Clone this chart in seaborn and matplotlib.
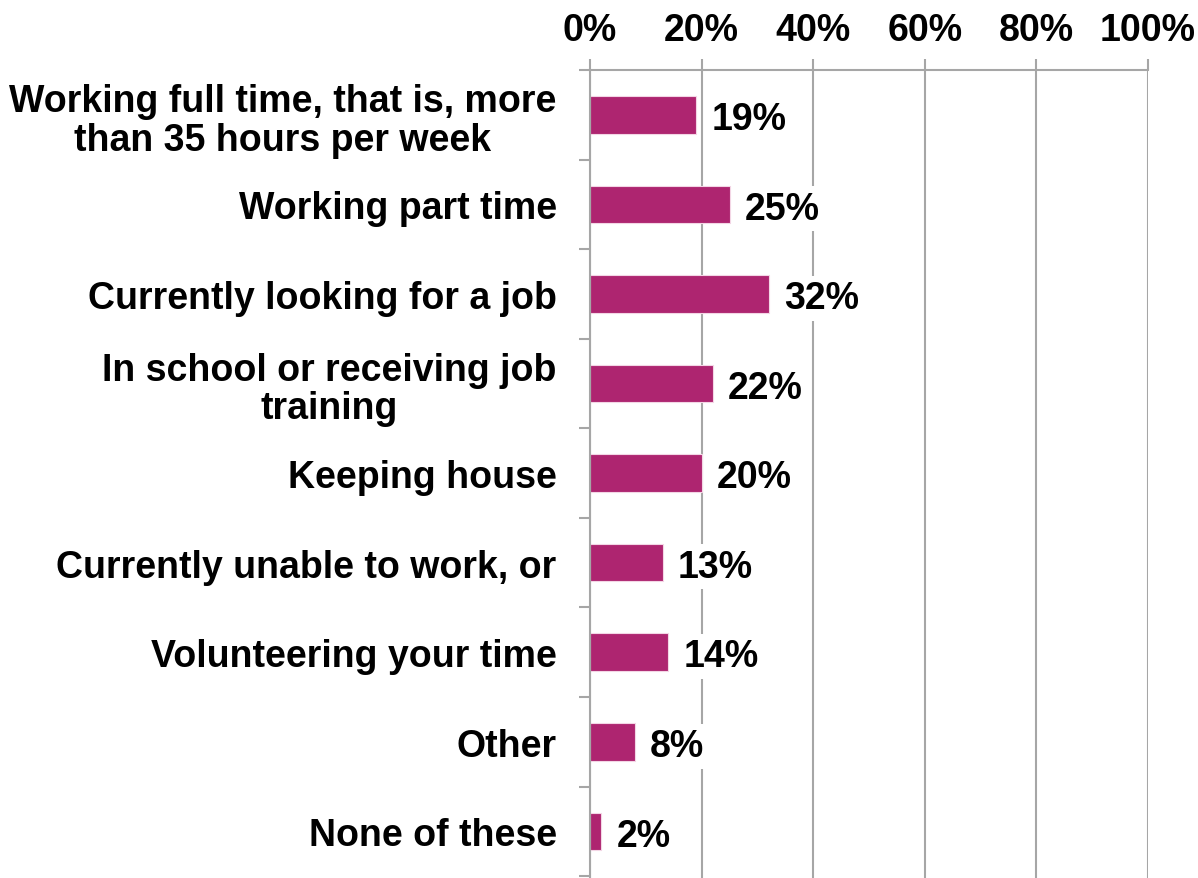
import matplotlib
matplotlib.use("Agg")
import matplotlib.pyplot as plt
import seaborn as sns
import pandas as pd
from matplotlib.ticker import FixedLocator

categories = [
    "Working full time, that is, more\nthan 35 hours per week",
    "Working part time",
    "Currently looking for a job",
    "In school or receiving job\ntraining",
    "Keeping house",
    "Currently unable to work, or",
    "Volunteering your time",
    "Other",
    "None of these",
]
values = [19, 25, 32, 22, 20, 13, 14, 8, 2]
x_ticks = [0, 20, 40, 60, 80, 100]
x_tick_labels = ["0%", "20%", "40%", "60%", "80%", "100%"]

sns.set_theme(style="white")
plt.rcParams["font.family"] = ["Liberation Sans", "DejaVu Sans"]
plt.rcParams["font.weight"] = "bold"
plt.rcParams["text.color"] = "black"
plt.rcParams["xtick.color"] = "black"
plt.rcParams["ytick.color"] = "black"

bar_color = "#AE2570"
grid_color = "#A6A6A6"
fs = 27

df = pd.DataFrame({"category": categories, "value": values})

fig = plt.figure(figsize=(11.98, 8.79), dpi=100)
ax = fig.add_axes([590 / 1198, 0.0, 558 / 1198, 1 - 71 / 879])

sns.barplot(data=df, x="value", y="category", orient="h", color=bar_color,
            width=0.42, saturation=1, edgecolor="#F3D6E5", linewidth=0.8, ax=ax)

ax.set_xlim(0, 100)
ax.set_ylim(len(categories) - 0.5 + 0.02, -0.5)
ax.set_xlabel("")
ax.set_ylabel("")

# value axis on top with vertical gridlines
ax.xaxis.tick_top()
ax.set_xticks(x_ticks)
ax.set_xticklabels(x_tick_labels, fontsize=fs, fontweight="bold", color="black")
ax.tick_params(axis="x", which="major", direction="out", length=8, width=1.5,
               color=grid_color, labelcolor="black", pad=8)
for xv in x_ticks:
    ax.axvline(xv, color=grid_color, linewidth=1.5, zorder=0)

# category labels with divider ticks between rows
ax.tick_params(axis="y", which="major", length=0, pad=24, labelcolor="black")
ax.set_yticklabels(categories, fontsize=fs, fontweight="bold", ha="right",
                   multialignment="center", linespacing=1.1, color="black")
ax.yaxis.set_minor_locator(FixedLocator([i + 0.5 for i in range(-1, len(categories))]))
ax.tick_params(axis="y", which="minor", direction="out", length=8, width=1.5,
               color=grid_color, left=True)

for side in ["right", "bottom"]:
    ax.spines[side].set_visible(False)
for side in ["top", "left"]:
    ax.spines[side].set_visible(True)
    ax.spines[side].set_color(grid_color)
    ax.spines[side].set_linewidth(1.5)

for i, v in enumerate(values):
    ax.annotate(f"{v}%", xy=(v, i), xytext=(11, -3), textcoords="offset points",
                va="center", ha="left", fontsize=fs, fontweight="bold", color="black",
                bbox=dict(boxstyle="square,pad=0.12", fc="white", ec="none"), zorder=5)

fig.savefig("out.png", dpi=100)
